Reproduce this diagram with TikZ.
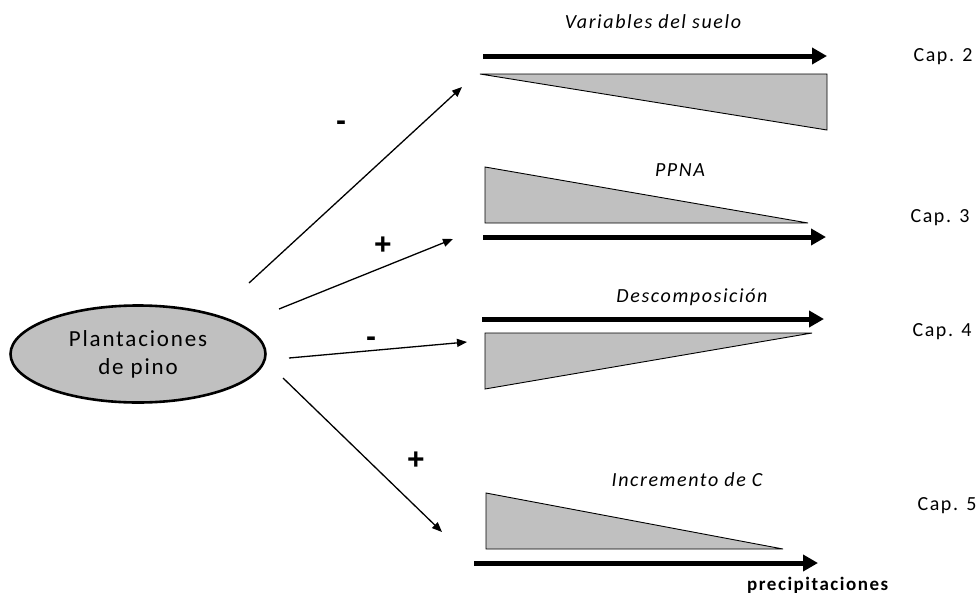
\documentclass[tikz,border=0pt]{standalone}
\usepackage{fontspec}
\setmainfont{Carlito}[LetterSpace=8]
\newfontfamily\signfont{Liberation Sans}
\usetikzlibrary{arrows.meta,shapes.geometric}
\definecolor{panelgray}{RGB}{192,192,192}
\begin{document}
\begin{tikzpicture}[x=1pt,y=-1pt,
  wedge/.style={draw=black, line width=0.9pt, fill=panelgray, line join=miter},
  axisarrow/.style={line width=5pt, -{Triangle[length=15pt,width=16pt]}},
  link/.style={line width=1.3pt, -{Triangle[length=10pt,width=8pt]}},
  title/.style={font=\fontsize{20}{24}\selectfont\itshape, inner sep=0pt},
  chapter/.style={font=\fontsize{20}{24}\selectfont, inner sep=0pt},
  sign/.style={font=\signfont\bfseries\fontsize{30}{30}\selectfont, inner sep=0pt},
]
\fill[white] (0,0) rectangle (979,597);
\useasboundingbox (0,0) rectangle (979,597);

% central factor
\node[ellipse, draw, line width=2.6pt, fill=panelgray, minimum width=255pt,
      minimum height=97pt, inner sep=0pt, align=center,
      font=\fontsize{23}{28}\selectfont] (pino) at (138,354) {Plantaciones\\de pino};

% effect arrows
\coordinate (s1) at (249,283); \coordinate (t1) at (462,87);
\coordinate (s2) at (279,309); \coordinate (t2) at (453,239);
\coordinate (s3) at (289,358); \coordinate (t3) at (467,342);
\coordinate (s4) at (283,378); \coordinate (t4) at (442,532);
\draw[link] (s1) -- (t1);
\draw[link] (s2) -- (t2);
\draw[link] (s3) -- (t3);
\draw[link] (s4) -- (t4);

\node[sign] (sg1) at (341,126) {-};
\node[sign] (sg2) at (383,246) {+};
\node[sign] (sg3) at (371,342) {-};
\node[sign] (sg4) at (416,461) {+};

% soil variables
\node[title] (lab1) at (653,22) {Variables del suelo};
\draw[axisarrow] (483,56) -- (827,56);
\draw[wedge] (480,74) -- (827,74) -- (827,130) -- cycle;
\node[chapter] (cap2) at (943,57) {Cap. 2};

% PPNA
\node[title] (lab2) at (680,170) {PPNA};
\draw[wedge] (485,167) -- (485,223) -- (808,223) -- cycle;
\draw[axisarrow] (483,237) -- (826,237);
\node[chapter] (cap3) at (940,218) {Cap. 3};

% decomposition
\node[title] (lab3) at (692,297) {Descomposición};
\draw[axisarrow] (482,319) -- (824,319);
\draw[wedge] (485,333) -- (812,333) -- (485,389) -- cycle;
\node[chapter] (cap4) at (942,332) {Cap. 4};

% carbon increment
\node[title] (lab4) at (687,480) {Incremento de C};
\draw[wedge] (486,493) -- (486,549) -- (783,549) -- cycle;
\draw[axisarrow] (474,563) -- (818,563);
\node[chapter] (cap5) at (947,506) {Cap. 5};
\node[font=\fontsize{19}{22}\selectfont\bfseries, inner sep=0pt, anchor=west]
  (prec) at (747,585) {precipitaciones};
\end{tikzpicture}
\end{document}
